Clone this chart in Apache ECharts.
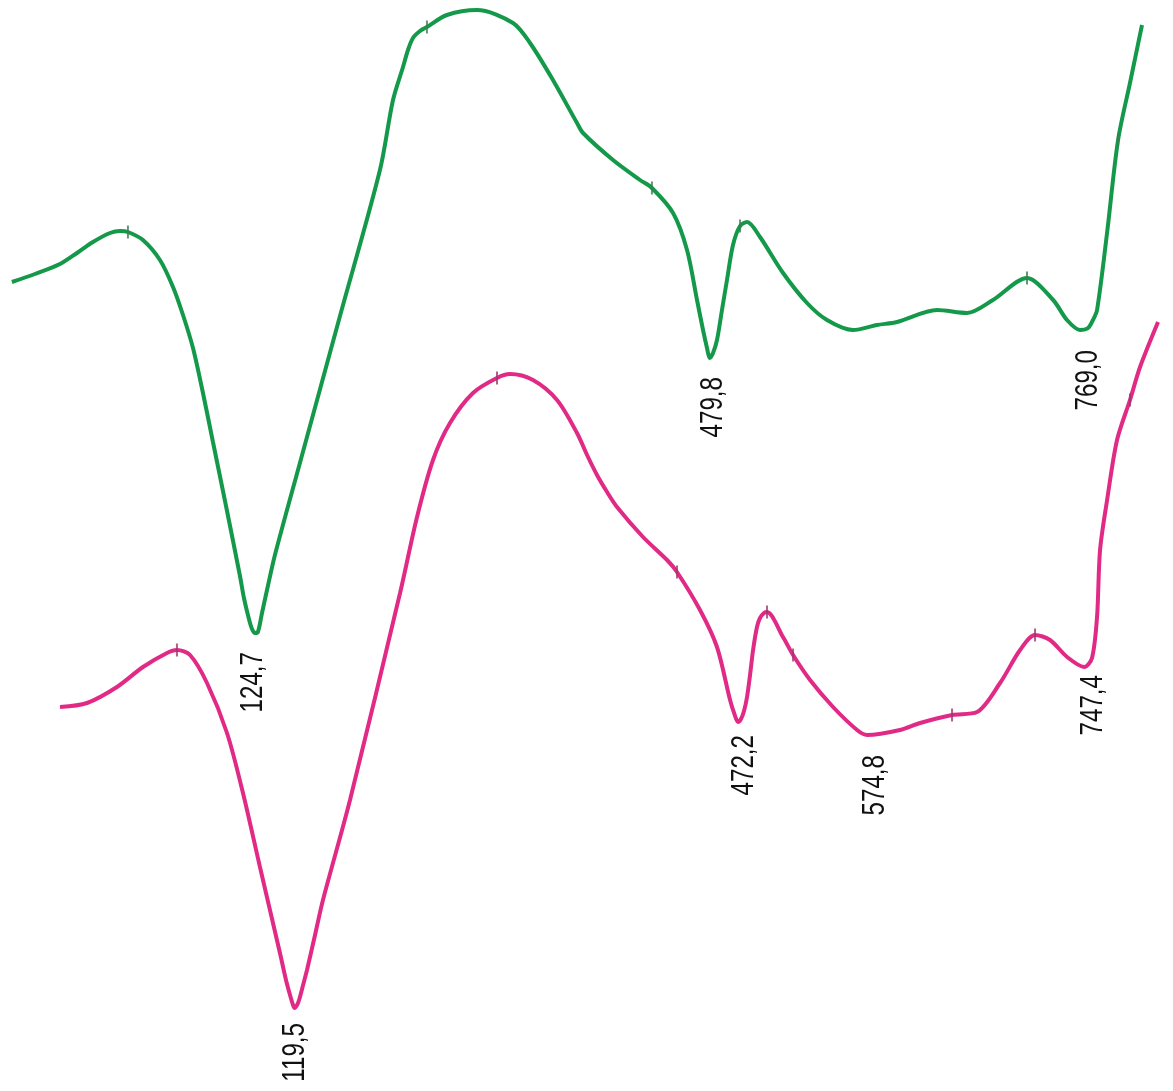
<!DOCTYPE html>
<html>
<head>
<meta charset="utf-8">
<title>DTA</title>
<script src="https://cdn.jsdelivr.net/npm/echarts@6/dist/echarts.min.js"></script>
<style>
  html, body { margin: 0; padding: 0; background: #fff; }
  #chart { width: 1173px; height: 1091px; }
</style>
</head>
<body>
<div id="chart"></div>
<script>
// Upper DTA curve (green): temperature, °C
const greenT = [-65.1, -47.1, -27.6, -14.3, -1.8, 11.5, 19.3, 25.5, 37.2, 50.5, 60.7, 68.5, 76.3, 84.1, 91.9, 102.1,
  113.0, 116.1, 120.0, 122.4, 124.7, 127.0, 130.2, 134.1, 140.3, 159.8, 191.1, 222.3, 232.5, 240.3, 244.2, 248.1,
  253.6, 259.0, 274.6, 298.1, 326.2, 339.5, 357.4, 376.2, 380.9, 404.3, 425.4, 434.7, 451.2, 462.1, 469.9, 474.6,
  477.7, 479.8, 482.4, 485.5, 489.4, 493.3, 498.0, 503.5, 509.0, 519.1, 537.1, 555.8, 571.4, 591.7, 610.5, 626.1,
  657.3, 680.7, 701.0, 727.6, 748.0, 758.8, 769.0, 775.3, 779.1, 782.3, 790.1, 798.7, 808.0, 817.4];
// Upper DTA curve (green): signal
const greenY = [809, 817, 827, 838, 849, 858, 860, 859, 851, 831, 804, 776, 743, 698, 649, 585,
  515, 493, 472, 462, 458, 459, 478, 501, 536, 628, 775, 921, 991, 1024, 1041, 1053,
  1060, 1064, 1076, 1081, 1068, 1048, 1011, 968, 958, 931, 911, 903, 878, 841, 791, 761,
  743, 733, 738, 751, 781, 811, 846, 865, 869, 854, 818, 788, 771, 761, 766, 769,
  781, 778, 791, 813, 791, 771, 761, 763, 771, 781, 858, 951, 1008, 1066];

// Lower DTA curve (pink): temperature, °C
const pinkT = [-67.0, -45.5, -21.7, -1.0, 18.1, 26.0, 36.4, 49.9, 65.8, 78.5, 92.0, 107.9, 112.7, 115.9, 118.3, 119.5,
  121.5, 123.1, 126.3, 129.4, 135.8, 142.1, 163.6, 203.4, 216.9, 229.6, 243.1, 261.4, 280.5, 290.8, 309.1, 328.2,
  344.1, 352.1, 360.0, 368.0, 375.9, 396.6, 415.7, 423.6, 441.9, 455.4, 465.8, 469.0, 472.2, 474.5, 476.9, 479.3,
  481.7, 484.1, 487.2, 489.6, 492.8, 495.2, 507.9, 515.9, 529.4, 547.7, 566.8, 574.8, 600.9, 616.9, 642.3, 662.2,
  680.5, 696.4, 708.3, 720.2, 733.8, 747.4, 753.6, 757.6, 760.0, 765.6, 773.5, 783.8, 791.8, 806.1];
// Lower DTA curve (pink): signal
const pinkY = [384, 388, 404, 424, 438, 441, 436, 408, 358, 298, 224, 138, 111, 96, 86, 83,
  86, 91, 106, 121, 156, 191, 291, 498, 574, 631, 668, 698, 713, 717, 711, 691,
  658, 636, 616, 599, 584, 554, 531, 519, 481, 444, 391, 378, 369, 372, 380, 394,
  416, 441, 464, 473, 478, 479, 454, 436, 411, 384, 361, 356, 361, 368, 376, 379,
  408, 441, 456, 451, 434, 424, 433, 474, 541, 591, 651, 691, 724, 769];

// Short marks along each curve
const greenTicks = [25.5, 259.0, 434.7, 503.5, 727.6, 798.7];
const pinkTicks = [26.0, 280.5, 423.6, 495.2, 515.9, 642.3, 708.3, 783.8];

// Labelled peak temperatures
const greenPeaks = [124.7, 479.8, 769.0];
const pinkPeaks = [119.5, 472.2, 574.8, 747.4];

// Label placement relative to each peak, px [right, down]
const greenNudge = [[-2, 19], [4, 19], [8, 20]];
const pinkNudge = [[1, 15], [6, 13], [8, 20], [9, 8]];

const GREEN = '#14984a';
const PINK = '#e02a86';
const LABEL_FONT = '31px "Liberation Sans", Arial, sans-serif';

function pairs(xs, ys) { return xs.map((x, i) => [x, ys[i]]); }
function at(xs, ys, t) { const i = xs.indexOf(t); return [t, ys[i]]; }
const fmt = v => v.toFixed(1).replace('.', ',');

// Upright-reading temperature labels, condensed along the text direction
function peakLabels(peaks, xs, ys, nudge, axisIndex) {
  return {
    type: 'custom',
    xAxisIndex: axisIndex,
    data: peaks.map((t, i) => at(xs, ys, t).concat(nudge[i])),
    z: 5,
    renderItem: (params, api) => {
      const p = api.coord([api.value(0), api.value(1)]);
      return {
        type: 'text',
        x: p[0] + api.value(2),
        y: p[1] + api.value(3),
        rotation: Math.PI / 2,
        scaleX: 0.78,
        style: {
          text: fmt(api.value(0)),
          font: LABEL_FONT,
          fill: '#111111',
          align: 'right',
          verticalAlign: 'middle',
          textAlign: 'right',
          textVerticalAlign: 'middle'
        }
      };
    }
  };
}

const chart = echarts.init(document.getElementById('chart'), null, { renderer: 'canvas' });
chart.setOption({
  animation: false,
  backgroundColor: '#ffffff',
  grid: { left: 0, right: 0, top: 0, bottom: 0 },
  xAxis: [
    { type: 'value', min: -74.4, max: 841.6, show: false },
    { type: 'value', min: -114.7, max: 818.0, show: false }
  ],
  yAxis: { type: 'value', min: 0, max: 1091, show: false },
  series: [
    {
      type: 'line', xAxisIndex: 0, data: pairs(greenT, greenY), smooth: 0.3,
      showSymbol: false, lineStyle: { color: GREEN, width: 4 }, z: 2
    },
    {
      type: 'line', xAxisIndex: 1, data: pairs(pinkT, pinkY), smooth: 0.3,
      showSymbol: false, lineStyle: { color: PINK, width: 4 }, z: 2
    },
    {
      type: 'scatter', xAxisIndex: 0, data: greenTicks.map(t => at(greenT, greenY, t)),
      symbol: 'rect', symbolSize: [2, 13], itemStyle: { color: '#3f7a52' }, z: 3
    },
    {
      type: 'scatter', xAxisIndex: 1, data: pinkTicks.map(t => at(pinkT, pinkY, t)),
      symbol: 'rect', symbolSize: [2, 13], itemStyle: { color: '#9a3a6a' }, z: 3
    },
    peakLabels(greenPeaks, greenT, greenY, greenNudge, 0),
    peakLabels(pinkPeaks, pinkT, pinkY, pinkNudge, 1)
  ]
});
</script>
</body>
</html>
